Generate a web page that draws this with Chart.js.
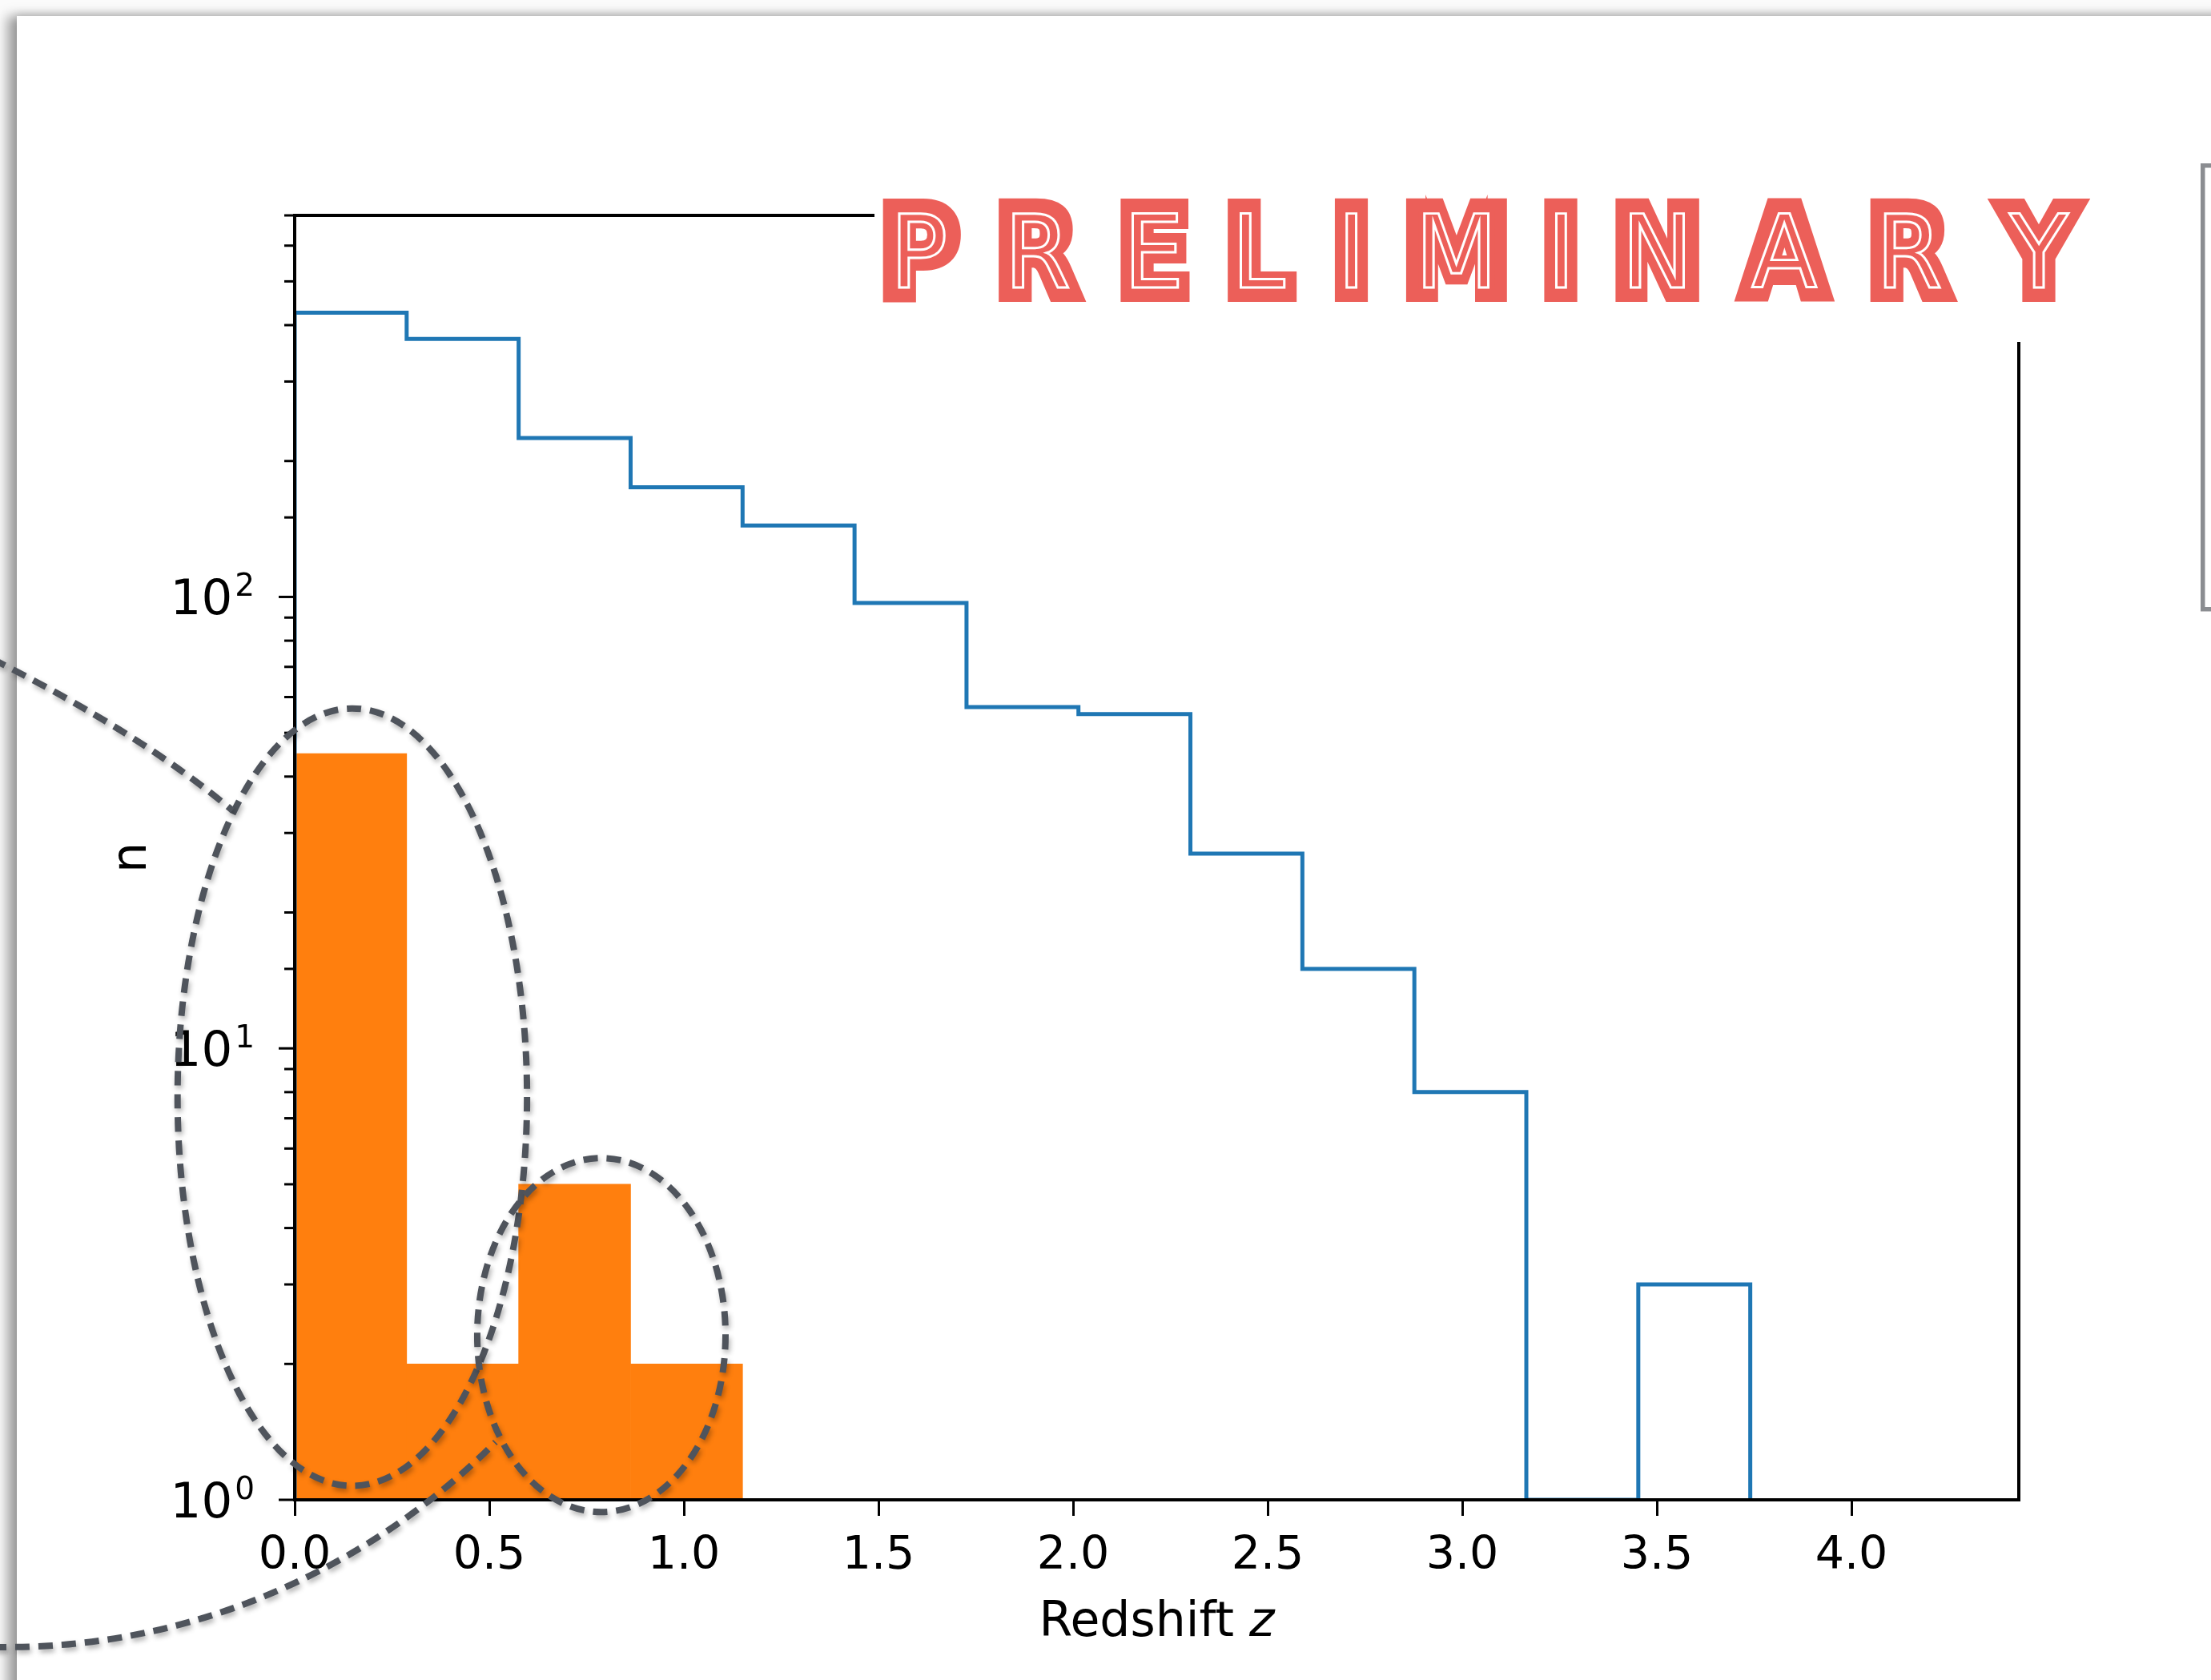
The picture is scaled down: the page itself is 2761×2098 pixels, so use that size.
<!DOCTYPE html>
<html>
<head>
<meta charset="utf-8">
<title>Redshift histogram</title>
<script src="https://cdn.jsdelivr.net/npm/chart.js@4.4.0/dist/chart.umd.min.js"></script>
<style>
    html, body { margin: 0; padding: 0; background: #fff; overflow: hidden; }
    #page { position: relative; width: 2761px; height: 2098px; background: #fbfbfb; overflow: hidden; }
    #paper {
        position: absolute; left: 21px; top: 20px; width: 2800px; height: 2150px;
        background: #fff;
        box-shadow: -12px 0 14px rgba(0, 0, 0, 0.36), 0 -3px 10px rgba(0, 0, 0, 0.10);
    }
    #chart { position: absolute; left: 0; top: 0; }
</style>
</head>
<body>
<div id="page">
    <div id="paper"></div>
    <canvas id="chart" width="2761" height="2098"></canvas>
</div>
<script>
// histogram bins (redshift) and counts per bin
const BIN_EDGES = [0, 0.2877, 0.5754, 0.8631, 1.1508, 1.4385, 1.7262, 2.0138, 2.3015, 2.5892, 2.8769, 3.1646, 3.4523, 3.74];
const ALL_COUNTS = [426, 373, 225, 175, 144, 97, 57, 55, 27, 15, 8, 0, 3];
const SELECTED_COUNTS = [45, 2, 5, 2];

const X_TICKS = [0, 0.5, 1, 1.5, 2, 2.5, 3, 3.5, 4];
const X_TICK_LABELS = ['0.0', '0.5', '1.0', '1.5', '2.0', '2.5', '3.0', '3.5', '4.0'];
const Y_TICK_EXPONENTS = [0, 1, 2];
const X_RANGE = [0, 4.43];
const Y_RANGE = [1, 700];

const X_TITLE = 'Redshift ';
const X_TITLE_VAR = 'z';
const Y_TITLE = 'n';
const STAMP = 'PRELIMINARY';

// dashed callouts, in data units: x = redshift, y = log10(n)
const RINGS = [
    { x: 0.148, logN: 0.892, dx: 0.449, dLog: 0.861 },
    { x: 0.788, logN: 0.365, dx: 0.319, dLog: 0.392 }
];
const LEADERS = [
    [[-0.778, 1.863], [-0.391, 1.695], [-0.160, 1.527]],
    [[-0.778, -0.326], [-0.243, -0.335], [0.210, -0.137], [0.516, 0.128]]
];

const FONT = '"DejaVu Sans", sans-serif';

// outline of a step histogram, zero bins drop to the axis floor
function stepPoints(edges, counts) {
    const floor = Y_RANGE[0];
    const pts = [{ x: edges[0], y: floor }];
    counts.forEach((c, i) => pts.push({ x: edges[i], y: Math.max(c, floor) }));
    pts.push({ x: edges[edges.length - 1], y: Math.max(counts[counts.length - 1], floor) });
    pts.push({ x: edges[edges.length - 1], y: floor });
    return pts;
}

function isDecade(v) {
    const l = Math.log10(v);
    return Math.abs(l - Math.round(l)) < 1e-9;
}

function drawStamp(ctx) {
    ctx.save();
    ctx.fillStyle = '#fff';
    ctx.fillRect(1092, 140, 1620, 287);

    const red = '#ec5f59';
    const thick = 16, gap = 46, left = 1102, right = 2605, base = 369;
    const bold = 'bold 155px "DejaVu Sans Condensed", "DejaVu Sans"';
    const thin = '155px "DejaVu Sans Condensed", "DejaVu Sans"';
    ctx.textAlign = 'left';
    ctx.textBaseline = 'alphabetic';
    ctx.font = bold;
    const letters = [...STAMP].map(ch => {
        const m = ctx.measureText(ch);
        return { ch, l: m.actualBoundingBoxLeft, w: m.actualBoundingBoxLeft + m.actualBoundingBoxRight + thick };
    });
    const ink = letters.reduce((s, g) => s + g.w, 0);
    const sx = (right - left - gap * (letters.length - 1)) / ink;
    const capH = 113;

    let x = left;
    letters.forEach(g => {
        ctx.save();
        ctx.translate(x, base);
        ctx.scale(sx, 1);
        ctx.font = bold;
        ctx.fillStyle = red;
        ctx.strokeStyle = red;
        ctx.lineWidth = thick;
        ctx.lineJoin = 'miter';
        ctx.fillText(g.ch, g.l + thick / 2, 0);
        ctx.strokeText(g.ch, g.l + thick / 2, 0);

        // inline: thinner glyph outline in white
        ctx.font = thin;
        const m = ctx.measureText(g.ch);
        ctx.translate(g.w / 2, -capH / 2);
        ctx.scale(0.88, 0.82);
        ctx.strokeStyle = '#fff';
        ctx.lineWidth = 3.5;
        ctx.strokeText(g.ch, -(m.actualBoundingBoxRight - m.actualBoundingBoxLeft) / 2, capH / 2);
        ctx.restore();
        x += g.w * sx + gap;
    });
    ctx.restore();
}

const decorPlugin = {
    id: 'decor',
    afterDraw(chart) {
        const ctx = chart.ctx;
        const xs = chart.scales.x;
        const ys = chart.scales.y;
        const area = chart.chartArea;
        ctx.save();

        // y ticks, long on decades
        ctx.strokeStyle = '#000';
        ctx.lineWidth = 3;
        ys.ticks.forEach(t => {
            const py = ys.getPixelForValue(t.value);
            const len = isDecade(t.value) ? 20 : 13;
            ctx.beginPath();
            ctx.moveTo(area.left, py);
            ctx.lineTo(area.left - len, py);
            ctx.stroke();
        });

        // frame
        ctx.lineWidth = 4;
        ctx.lineCap = 'square';
        ctx.strokeRect(area.left, area.top, area.right - area.left, area.bottom - area.top);

        // y labels 10^k
        ctx.fillStyle = '#000';
        ctx.textAlign = 'right';
        ctx.textBaseline = 'alphabetic';
        Y_TICK_EXPONENTS.forEach(e => {
            const py = ys.getPixelForValue(Math.pow(10, e));
            const edge = area.left - 50;
            ctx.font = '39px ' + FONT;
            const sw = ctx.measureText(String(e)).width;
            ctx.fillText(String(e), edge, py - 1);
            ctx.font = '61px ' + FONT;
            ctx.fillText('10', edge - sw - 3, py + 22);
        });

        // axis titles
        ctx.font = '60px ' + FONT;
        const w1 = ctx.measureText(X_TITLE).width;
        ctx.font = 'italic 60px ' + FONT;
        const w2 = ctx.measureText(X_TITLE_VAR).width;
        const tx = (area.left + area.right) / 2 - (w1 + w2) / 2;
        ctx.textAlign = 'left';
        ctx.font = '60px ' + FONT;
        ctx.fillText(X_TITLE, tx, 2043);
        ctx.font = 'italic 60px ' + FONT;
        ctx.fillText(X_TITLE_VAR, tx + w1, 2043);

        ctx.save();
        ctx.translate(182, (area.top + area.bottom) / 2);
        ctx.rotate(-Math.PI / 2);
        ctx.textAlign = 'center';
        ctx.font = '60px ' + FONT;
        ctx.fillText(Y_TITLE, 0, 0);
        ctx.restore();

        drawStamp(ctx);

        // legend frame, mostly off the page
        ctx.strokeStyle = '#8b8d91';
        ctx.lineWidth = 5.5;
        ctx.strokeRect(2750.75, 206.75, 300, 554);

        // dashed callouts
        const P = (x, l) => [xs.getPixelForValue(x), ys.getPixelForValue(Math.pow(10, l))];
        ctx.strokeStyle = '#4f545c';
        ctx.lineWidth = 8;
        ctx.lineCap = 'butt';
        ctx.setLineDash([18, 11]);
        ctx.shadowColor = 'rgba(0, 0, 0, 0.3)';
        ctx.shadowBlur = 6;
        ctx.shadowOffsetX = 2;
        ctx.shadowOffsetY = 4;
        RINGS.forEach(r => {
            const [cx, cy] = P(r.x, r.logN);
            const rx = xs.getPixelForValue(r.x + r.dx) - cx;
            const ry = cy - ys.getPixelForValue(Math.pow(10, r.logN + r.dLog));
            ctx.beginPath();
            ctx.ellipse(cx, cy, rx, ry, 0, 0, Math.PI * 2);
            ctx.stroke();
        });
        LEADERS.forEach(pts => {
            const p = pts.map(q => P(q[0], q[1]));
            ctx.beginPath();
            ctx.moveTo(p[0][0], p[0][1]);
            if (p.length === 3) {
                ctx.quadraticCurveTo(p[1][0], p[1][1], p[2][0], p[2][1]);
            } else {
                ctx.bezierCurveTo(p[1][0], p[1][1], p[2][0], p[2][1], p[3][0], p[3][1]);
            }
            ctx.stroke();
        });
        ctx.restore();
    }
};

new Chart(document.getElementById('chart'), {
    type: 'line',
    data: {
        datasets: [
            {
                type: 'line',
                label: 'all',
                data: stepPoints(BIN_EDGES, ALL_COUNTS),
                borderColor: '#1f77b4',
                borderWidth: 5,
                stepped: 'before',
                pointRadius: 0,
                fill: false,
                tension: 0,
                borderJoinStyle: 'miter',
                order: 0
            },
            {
                type: 'bar',
                label: 'selected',
                data: SELECTED_COUNTS.map((c, i) => ({ x: (BIN_EDGES[i] + BIN_EDGES[i + 1]) / 2, y: c })),
                backgroundColor: '#ff7f0e',
                borderWidth: 0,
                barPercentage: 1,
                categoryPercentage: 1,
                order: 1
            }
        ]
    },
    options: {
        responsive: false,
        animation: false,
        layout: { padding: { left: 0, top: 269, right: 240, bottom: 0 } },
        plugins: {
            legend: { display: false },
            tooltip: { enabled: false }
        },
        scales: {
            x: {
                type: 'linear',
                min: X_RANGE[0],
                max: X_RANGE[1],
                offset: false,
                border: { display: false },
                grid: {
                    display: true,
                    offset: false,
                    drawOnChartArea: false,
                    drawTicks: true,
                    tickLength: 20,
                    tickWidth: 3,
                    tickColor: '#000'
                },
                ticks: {
                    autoSkip: false,
                    maxRotation: 0,
                    padding: 17,
                    color: '#000',
                    font: { family: 'DejaVu Sans', size: 57 },
                    callback: (v, i) => X_TICK_LABELS[i]
                },
                afterBuildTicks: s => { s.ticks = X_TICKS.map(v => ({ value: v })); },
                afterFit: s => { s.height = 225; }
            },
            y: {
                type: 'logarithmic',
                min: Y_RANGE[0],
                max: Y_RANGE[1],
                border: { display: false },
                grid: { display: false },
                ticks: { display: false },
                afterFit: s => { s.width = 368; }
            }
        }
    },
    plugins: [decorPlugin]
});
</script>
</body>
</html>
